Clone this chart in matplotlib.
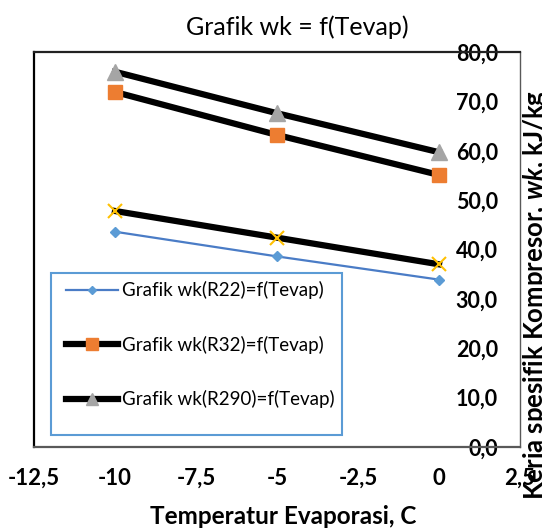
import matplotlib
matplotlib.use("Agg")
import matplotlib.pyplot as plt
from matplotlib.patches import Rectangle

# ---- data ----
t_evap = [-10, -5, 0]
wk_r22 = [43.6, 38.6, 33.9]
wk_r32 = [71.9, 63.2, 55.1]
wk_r290 = [76.0, 67.6, 59.7]
wk_s4 = [47.8, 42.4, 37.0]

series_labels = ["Grafik wk(R22)=f(Tevap)", "Grafik wk(R32)=f(Tevap)",
                 "Grafik wk(R290)=f(Tevap)"]
x_ticks = [-12.5, -10, -7.5, -5, -2.5, 0, 2.5]
x_tick_labels = ["-12,5", "-10", "-7,5", "-5", "-2,5", "0", "2,5"]
y_ticks = [0, 10, 20, 30, 40, 50, 60, 70, 80]
y_tick_labels = ["0,0", "10,0", "20,0", "30,0", "40,0", "50,0", "60,0", "70,0", "80,0"]

title = "Grafik wk = f(Tevap)"
x_label = "Temperatur Evaporasi, C"

plt.rcParams['font.family'] = ['Lato', 'DejaVu Sans']
plt.rcParams['mathtext.fontset'] = 'custom'
plt.rcParams['mathtext.rm'] = 'Lato:bold'
plt.rcParams['mathtext.bf'] = 'Lato:bold'
plt.rcParams['mathtext.it'] = 'Lato:bold:italic'

W, H = 542, 528
fig = plt.figure(figsize=(W / 100, H / 100), dpi=100)
L, R, T, B = 34, 520, 52, 447
ax = fig.add_axes([L / W, 1 - B / H, (R - L) / W, (B - T) / H])

ax.plot(t_evap, wk_r22, color='#4A7CC6', lw=1.6, marker='D', ms=5,
        mfc='#5B9BD5', mec='#5B9BD5', label=series_labels[0], zorder=3)
ax.plot(t_evap, wk_r32, color='black', lw=4.5, marker='s', ms=10,
        mfc='#ED7D31', mec='#ED7D31', label=series_labels[1], zorder=3)
ax.plot(t_evap, wk_r290, color='black', lw=4.5, marker='^', ms=11,
        mfc='#A5A5A5', mec='#A5A5A5', label=series_labels[2], zorder=3)
ax.plot(t_evap, wk_s4, color='black', lw=4.5, marker='x', ms=10, mew=1.5,
        mec='#FFC000', label='_nolegend_', zorder=3)

ax.set_xlim(-12.5, 2.5)
ax.set_ylim(0, 80)
ax.set_xticks(x_ticks)
ax.set_xticklabels(x_tick_labels, fontsize=16, fontweight='bold')
ax.set_yticks(y_ticks)
ax.set_yticklabels(y_tick_labels, fontsize=15.5, fontweight='bold')

ax.yaxis.set_ticks_position('right')
ax.tick_params(axis='y', length=0, pad=-16)
ax.tick_params(axis='x', length=0, pad=15)
for lab in ax.get_yticklabels():
    lab.set_ha('right')
    lab.set_bbox(dict(facecolor='white', edgecolor='none', pad=1))

for s in ax.spines.values():
    s.set_zorder(2)
ax.spines['left'].set_color('black')
ax.spines['left'].set_linewidth(1.6)
ax.spines['top'].set_color('#222222')
ax.spines['top'].set_linewidth(1.6)
ax.spines['bottom'].set_color('#595959')
ax.spines['bottom'].set_linewidth(1.6)
ax.spines['right'].set_color('#595959')
ax.spines['right'].set_linewidth(1.0)

ax.set_title(title, fontsize=18, pad=12, x=(297 - L) / (R - L))
ax.set_xlabel(x_label, fontsize=17.5, fontweight='bold')
ax.xaxis.set_label_coords((283 - L) / (R - L), -(516 - B) / (B - T))
ax.xaxis.label.set_va('center')
ax.yaxis.set_label_position('right')
ax.set_ylabel(r"Kerja spesifik Kompresor, $\mathit{wk}$, kJ/kg", fontsize=18.5,
              fontweight='bold')
ax.yaxis.set_label_coords((521 - L) / (R - L), (B - 295) / (B - T))
ax.yaxis.label.set_va('top')

# legend box
ax.add_patch(Rectangle((51 / W, 1 - 435 / H), (342 - 51) / W, (435 - 273) / H,
                       transform=fig.transFigure, fill=True, fc='white',
                       ec='#5B9BD5', lw=1.5, zorder=4, clip_on=False))
leg = ax.legend(loc='upper left', bbox_to_anchor=(51 / W, 1 - 266 / H),
                bbox_transform=fig.transFigure, frameon=False, fontsize=13.5,
                handlelength=2.75, handletextpad=0.25, labelspacing=1.95,
                borderpad=0.3, markerscale=0.85)
leg.set_zorder(5)

fig.savefig("out.png", dpi=100)
